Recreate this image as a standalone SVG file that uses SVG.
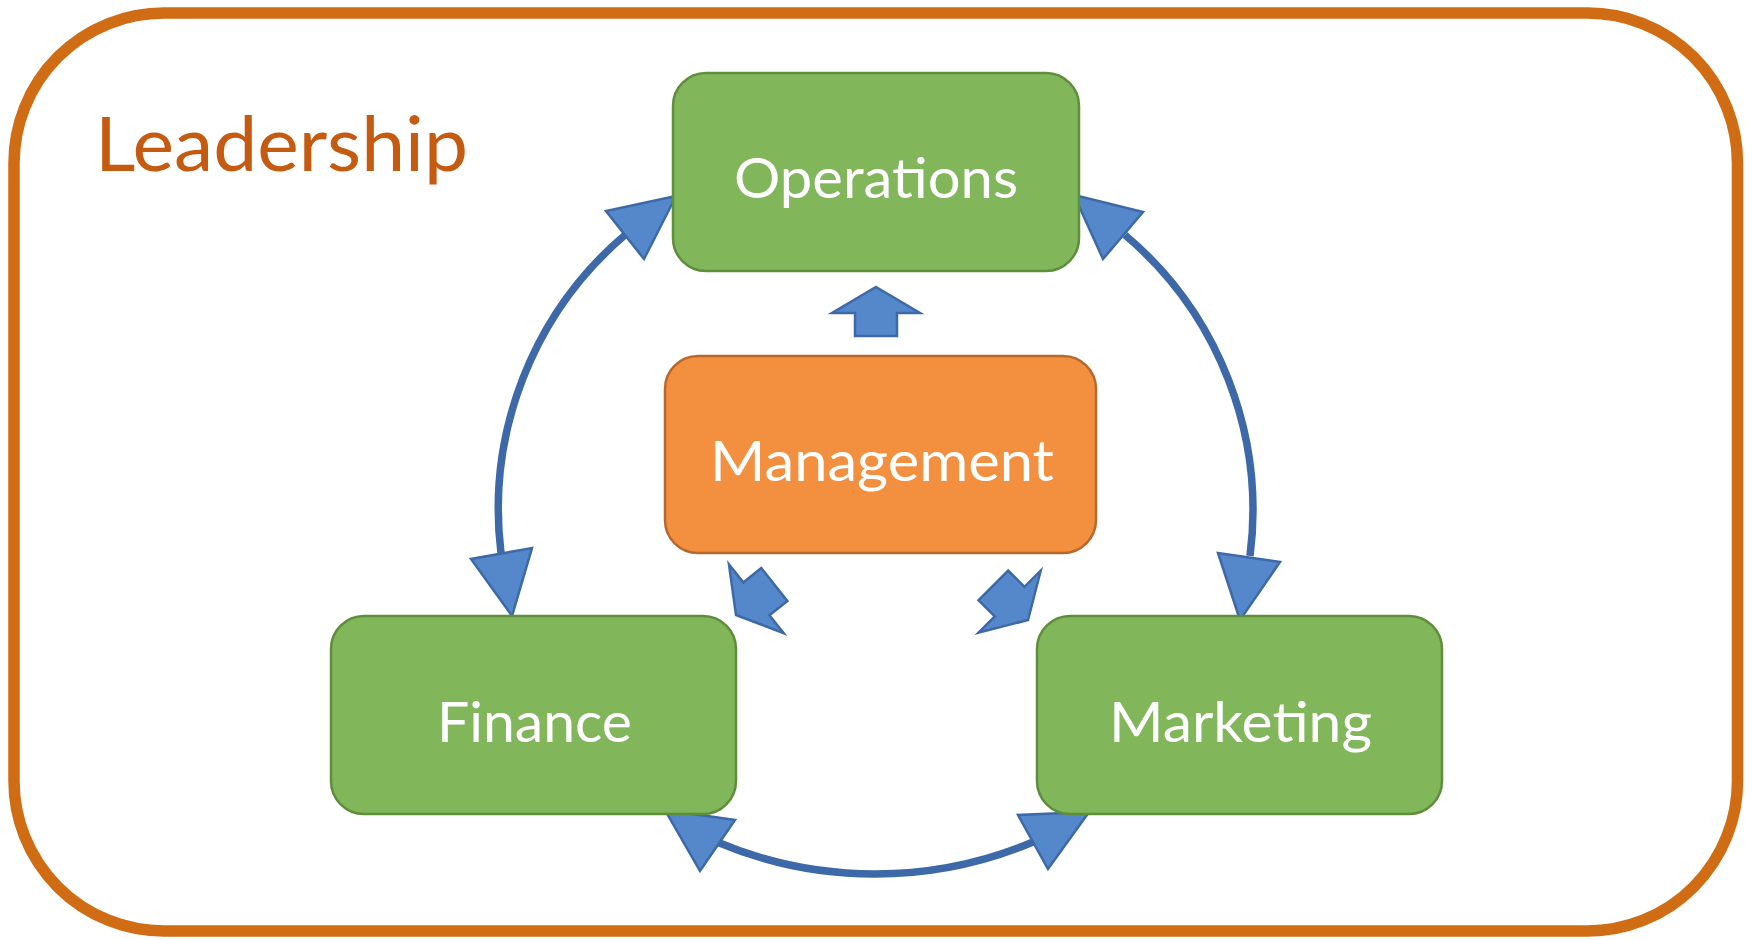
<svg xmlns="http://www.w3.org/2000/svg" width="1753" height="940" viewBox="0 0 1753 940">
  <style>
    .frame { fill: #FFFFFF; stroke: #D06C14; stroke-width: 11.5; }
    .title { font-family: Lato, "Liberation Sans", sans-serif; font-size: 75px; fill: #C55A11; }
    .green { fill: #82B65A; stroke: #5E8E3A; stroke-width: 2.5; }
    .orange { fill: #F2903F; stroke: #B8682C; stroke-width: 2.5; }
    .label { font-family: Lato, "Liberation Sans", sans-serif; font-size: 57px; fill: #FFFFFF; text-anchor: middle; }
    .link { fill: none; stroke: #3D69A8; stroke-width: 7.5; }
    .head { fill: #5587CB; stroke: #3D69A8; stroke-width: 2.5; stroke-linejoin: miter; }
    .block { fill: #5587CB; stroke: #3D69A8; stroke-width: 2.5; }
  </style>
  <defs>
    <!-- block arrow pointing up, tip at origin -->
    <polygon id="blockArrow" points="0,0 44,26 21,26 21,49 -21,49 -21,26 -44,26"/>
  </defs>

  <rect x="0" y="0" width="1753" height="940" fill="#FFFFFF"/>

  <!-- outer frame -->
  <g id="leadership">
    <rect class="frame" x="14" y="13" width="1723.5" height="918" rx="150" ry="150"/>
    <text class="title" x="95" y="171" textLength="373" lengthAdjust="spacingAndGlyphs">Leadership</text>
  </g>

  <!-- connectors -->
  <g id="connectors">
    <path class="link" d="M 625 235 A 360 360 0 0 0 501 553"/>
    <path class="link" d="M 1125 235 A 360 360 0 0 1 1250 556"/>
    <path class="link" d="M 717 842 A 406 406 0 0 0 1033 842"/>

    <polygon class="head" points="676,196 606,211 644,259"/>
    <polygon class="head" points="512,616 471,559 532,548"/>
    <polygon class="head" points="1074,195 1143,212 1103,259"/>
    <polygon class="head" points="1240,620 1218,553 1280,562"/>
    <polygon class="head" points="665,810 735,820 700,871"/>
    <polygon class="head" points="1089,812 1018,815 1048,869"/>

    <use href="#blockArrow" class="block" transform="translate(876,287)"/>
    <use href="#blockArrow" class="block" transform="translate(736,615) rotate(-128.5)"/>
    <use href="#blockArrow" class="block" transform="translate(1028,620) rotate(135)"/>
  </g>

  <g id="operations">
    <rect class="green" x="673" y="73" width="406" height="198" rx="33" ry="33"/>
    <text class="label" x="876" y="198" textLength="284" lengthAdjust="spacingAndGlyphs">Operations</text>
  </g>

  <g id="management">
    <rect class="orange" x="665" y="356" width="431" height="197" rx="33" ry="33"/>
    <text class="label" x="882" y="481" textLength="344" lengthAdjust="spacingAndGlyphs">Management</text>
  </g>

  <g id="finance">
    <rect class="green" x="331" y="616" width="405" height="198" rx="33" ry="33"/>
    <text class="label" x="534.5" y="742" textLength="195" lengthAdjust="spacingAndGlyphs">Finance</text>
  </g>

  <g id="marketing">
    <rect class="green" x="1037" y="616" width="405" height="198" rx="33" ry="33"/>
    <text class="label" x="1240.5" y="742" textLength="263" lengthAdjust="spacingAndGlyphs">Marketing</text>
  </g>
</svg>
